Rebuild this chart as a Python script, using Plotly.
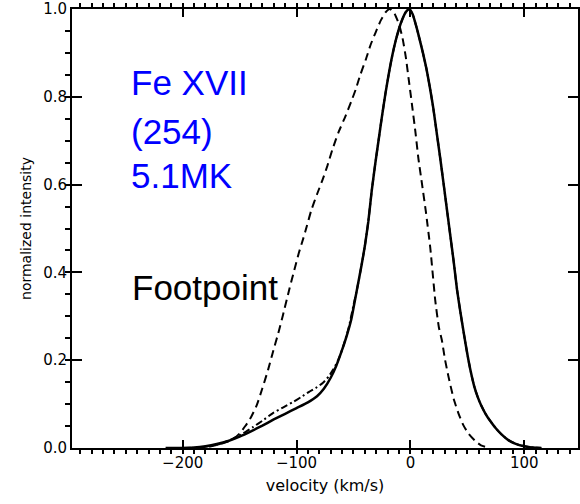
import plotly.graph_objects as go

# Line profiles: velocity (km/s) vs normalized intensity
solid_v = [-215, -200, -190, -180, -170, -160, -150, -140, -130, -120, -110, -100, -90, -82,
           -76, -70, -65, -61, -56, -52, -47, -43, -40, -37, -34, -31, -28, -25, -22, -19,
           -16, -13, -10, -7, -4, -1, 2, 5, 8, 11, 14, 17, 20, 23, 26, 29, 32, 35, 38, 41,
           44, 47, 50, 53, 56, 59, 62, 66, 70, 75, 80, 86, 92, 98, 105, 115]
solid_i = [0.0, 0.0, 0.001, 0.004, 0.009, 0.016, 0.026, 0.038, 0.051, 0.065, 0.078, 0.091, 0.104, 0.118,
           0.135, 0.160, 0.188, 0.216, 0.255, 0.292, 0.360, 0.415, 0.460, 0.515, 0.585, 0.645, 0.700, 0.755, 0.806, 0.852,
           0.893, 0.927, 0.955, 0.977, 0.993, 1.0, 0.988, 0.962, 0.932, 0.900, 0.865, 0.823, 0.776, 0.720, 0.664, 0.605, 0.545, 0.485, 0.425, 0.360,
           0.308, 0.260, 0.214, 0.174, 0.141, 0.117, 0.098, 0.078, 0.062, 0.045, 0.031, 0.018, 0.010, 0.005, 0.002, 0.0]

dashdot_v = [-210, -195, -180, -170, -156, -147, -138, -130, -121, -112, -103, -96, -89, -83,
             -77, -72, -68, -64, -61, -57, -54, -50, -47, -43, -40, -37, -34, -31, -28, -25, -22, -19,
             -16, -13, -10, -7, -4, -1, 2, 5, 8, 11, 14, 17, 20, 23, 26, 29, 32, 35, 38, 41,
             44, 47, 50, 53, 56, 59, 62, 66, 70, 75, 80, 86, 92, 98, 105, 115]
dashdot_i = [0.0, 0.0, 0.003, 0.007, 0.021, 0.033, 0.048, 0.062, 0.079, 0.092, 0.105, 0.116, 0.128, 0.137,
             0.148, 0.162, 0.178, 0.197, 0.216, 0.248, 0.276, 0.325, 0.360, 0.415, 0.460, 0.515, 0.585, 0.645, 0.700, 0.755, 0.806, 0.852,
             0.893, 0.927, 0.955, 0.977, 0.993, 1.0, 0.988, 0.962, 0.932, 0.900, 0.865, 0.823, 0.776, 0.720, 0.664, 0.605, 0.545, 0.485, 0.425, 0.360,
             0.308, 0.260, 0.214, 0.174, 0.141, 0.117, 0.098, 0.078, 0.062, 0.045, 0.031, 0.018, 0.010, 0.005, 0.002, 0.0]

dashed_v = [-200, -185, -175, -168, -161, -155, -150, -145, -140, -135, -130, -125, -121, -116,
            -112, -106, -102, -98, -94, -91, -87, -82, -77, -73, -68.5, -63, -57, -52, -48, -44,
            -39, -35, -30.5, -26, -22, -18, -14, -10, -7, -4, -1.5, 1.5, 4.5, 7, 10, 13.5, 17.5,
            21.8, 25, 27.6, 30.5, 33.5, 38, 42.2, 46.5, 51, 57, 62, 70]
dashed_i = [0.0, 0.001, 0.004, 0.008, 0.014, 0.022, 0.033, 0.050, 0.070, 0.097, 0.136, 0.178, 0.216, 0.262,
            0.302, 0.365, 0.405, 0.444, 0.478, 0.505, 0.542, 0.578, 0.612, 0.642, 0.680, 0.720, 0.756, 0.789, 0.817, 0.850,
            0.886, 0.918, 0.947, 0.974, 0.992, 1.0, 0.990, 0.965, 0.935, 0.890, 0.840, 0.780, 0.718, 0.660, 0.605, 0.540, 0.455,
            0.337, 0.275, 0.246, 0.200, 0.162, 0.112, 0.079, 0.052, 0.033, 0.016, 0.006, 0.0]

fig = go.Figure()
fig.add_trace(go.Scatter(x=dashed_v, y=dashed_i, mode="lines",
                         line=dict(color="black", width=2, dash="8px,5px", shape="spline", smoothing=0.5)))
fig.add_trace(go.Scatter(x=dashdot_v, y=dashdot_i, mode="lines",
                         line=dict(color="black", width=2, dash="7px,3px,2px,3px", shape="spline", smoothing=0.5)))
fig.add_trace(go.Scatter(x=solid_v, y=solid_i, mode="lines",
                         line=dict(color="black", width=2.5, shape="spline", smoothing=0.5)))

tick_font = dict(family="DejaVu Sans", size=15, color="black")

fig.update_xaxes(
    range=[-297.2, 147.2], tick0=0, dtick=100, ticks="inside", ticklen=8, tickwidth=1.5,
    tickcolor="black", showline=True, linewidth=2, linecolor="black", mirror="allticks",
    showgrid=False, zeroline=False, tickfont=tick_font,
    minor=dict(dtick=10, ticklen=4, tickwidth=1.5, tickcolor="black", showgrid=False),
    title=dict(text="velocity (km/s)", font=dict(family="DejaVu Sans", size=16, color="black"), standoff=9),
)
fig.update_yaxes(
    range=[0, 1], tick0=0, dtick=0.2, tickformat=".1f", ticks="inside", ticklen=10, tickwidth=2,
    tickcolor="black", showline=True, linewidth=2, linecolor="black", mirror="allticks",
    showgrid=False, zeroline=False, tickfont=tick_font,
    minor=dict(dtick=0.05, ticklen=5, tickwidth=2, tickcolor="black", showgrid=False),
    title=dict(text="normalized intensity", font=dict(family="DejaVu Sans", size=14, color="black"), standoff=8),
)

label_font = dict(family="Liberation Sans", size=35, color="blue")
for text, y in [("Fe XVII", 0.8326), ("(254)", 0.7209), ("5.1MK", 0.6207)]:
    fig.add_annotation(text=text, x=0.112, y=y, xref="paper", yref="paper",
                       xanchor="left", yanchor="middle", showarrow=False, font=label_font)
fig.add_annotation(text="Footpoint", x=0.114, y=0.3656, xref="paper", yref="paper",
                   xanchor="left", yanchor="middle", showarrow=False,
                   font=dict(family="Liberation Sans", size=35, color="black"))

fig.update_layout(
    template="simple_white",
    width=580, height=504, showlegend=False,
    margin=dict(l=72, r=0, t=9, b=56),
    plot_bgcolor="white", paper_bgcolor="white",
)

fig.write_html("out.html")
